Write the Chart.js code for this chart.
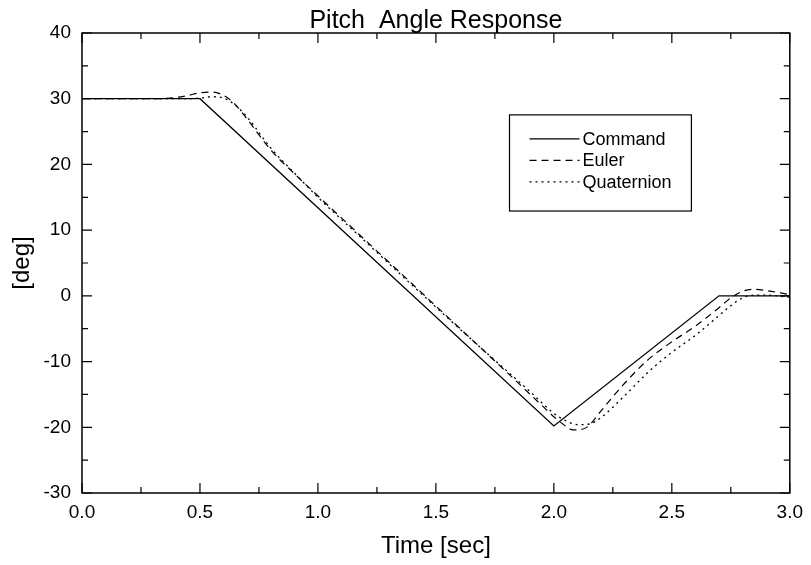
<!DOCTYPE html>
<html lang="en">
<head>
<meta charset="UTF-8">
<title>Pitch Angle Response</title>
<script src="https://cdn.jsdelivr.net/npm/chart.js"></script>
<style>
  html, body { margin: 0; padding: 0; background: #fff; }
  #wrap { width: 811px; height: 565px; }
</style>
</head>
<body>
<div id="wrap"><canvas id="chart"></canvas></div>
<script>
  // values
  const commandTime = [0, 0.5, 2.0, 2.7, 3.0];
  const commandDeg  = [30, 30, -19.8, 0, 0];

  const eulerTime = [0, 0.3, 0.4, 0.45, 0.5, 0.55, 0.6, 0.65, 0.7, 0.8, 0.9, 1.0, 1.2, 1.4, 1.6, 1.8, 1.9, 1.95,
                     2.0, 2.05, 2.08, 2.12, 2.15, 2.2, 2.3, 2.4, 2.5, 2.6, 2.7, 2.75, 2.8, 2.85, 2.9, 3.0];
  const eulerDeg  = [30, 30, 30.2, 30.5, 30.9, 31.0, 30.5, 29.1, 26.9, 22.2, 18.6, 15.2, 8.5, 1.8, -4.9, -11.6, -15.0, -16.7,
                     -18.4, -19.8, -20.4, -20.3, -19.7, -17.5, -13.3, -9.7, -7.0, -4.6, -1.8, -0.3, 0.7, 1.0, 0.8, 0.2];

  const quatTime = [0, 0.45, 0.5, 0.55, 0.6, 0.65, 0.7, 0.8, 0.9, 1.0, 1.2, 1.4, 1.6, 1.8, 1.9, 1.95,
                    2.0, 2.05, 2.1, 2.15, 2.2, 2.3, 2.4, 2.5, 2.6, 2.7, 2.75, 2.8, 2.85, 2.9, 3.0];
  const quatDeg  = [30, 30, 30.1, 30.3, 30.1, 29.0, 27.2, 22.5, 18.7, 15.0, 8.3, 1.6, -5.0, -11.4, -14.6, -16.3,
                    -17.9, -19.0, -19.6, -19.5, -18.5, -15.2, -11.6, -8.6, -6.0, -3.0, -1.5, -0.3, 0.1, 0.1, -0.2];

  const xMajor = 0.5, xMinor = 0.25;
  const yMajor = 10, yMinor = 5;
  const chartTitle = 'Pitch  Angle Response';

  const toPoints = (xs, ys) => xs.map((x, i) => ({ x: x, y: ys[i] }));
  const FONT = '"Liberation Sans", Arial, Helvetica, sans-serif';

  // title centred over the plot area, not the whole canvas
  const plotTitle = {
    id: 'plotTitle',
    afterDraw(chart) {
      const { ctx, chartArea: a } = chart;
      ctx.save();
      ctx.font = '25px ' + FONT;
      ctx.fillStyle = '#000';
      ctx.textAlign = 'center';
      ctx.textBaseline = 'alphabetic';
      ctx.fillText(chartTitle, (a.left + a.right) / 2, a.top - 5);
      ctx.restore();
    }
  };

  // box round the plot with inward ticks on all four sides
  const frameTicks = {
    id: 'frameTicks',
    afterDraw(chart) {
      const { ctx, chartArea: a, scales } = chart;
      ctx.save();
      ctx.strokeStyle = '#000';
      ctx.lineWidth = 1.5;
      ctx.strokeRect(a.left, a.top, a.right - a.left, a.bottom - a.top);
      ctx.lineWidth = 1.2;
      ctx.beginPath();
      scales.x.ticks.forEach(t => {
        const px = scales.x.getPixelForValue(t.value);
        const len = Math.abs(t.value / xMajor - Math.round(t.value / xMajor)) < 1e-6 ? 10 : 6;
        ctx.moveTo(px, a.bottom); ctx.lineTo(px, a.bottom - len);
        ctx.moveTo(px, a.top); ctx.lineTo(px, a.top + len);
      });
      scales.y.ticks.forEach(t => {
        const py = scales.y.getPixelForValue(t.value);
        const len = t.value % yMajor === 0 ? 10 : 6;
        ctx.moveTo(a.left, py); ctx.lineTo(a.left + len, py);
        ctx.moveTo(a.right, py); ctx.lineTo(a.right - len, py);
      });
      ctx.stroke();
      ctx.restore();
    }
  };

  // legend inside the plot, as a framed box
  const legendBox = {
    id: 'legendBox',
    afterDraw(chart) {
      const { ctx, chartArea: a } = chart;
      const w = a.right - a.left, h = a.bottom - a.top;
      const x0 = a.left + w * 0.604, x1 = a.left + w * 0.861;
      const y0 = a.top + h * 0.178, y1 = a.top + h * 0.387;
      ctx.save();
      ctx.strokeStyle = '#000';
      ctx.lineWidth = 1.2;
      ctx.strokeRect(x0, y0, x1 - x0, y1 - y0);
      ctx.font = '18px ' + FONT;
      ctx.fillStyle = '#000';
      ctx.textBaseline = 'middle';
      chart.data.datasets.forEach((ds, i) => {
        const y = y0 + 24 + i * 21.5;
        ctx.lineWidth = ds.borderWidth;
        ctx.setLineDash(ds.borderDash || []);
        ctx.beginPath();
        ctx.moveTo(x0 + 20, y); ctx.lineTo(x0 + 70, y);
        ctx.stroke();
        ctx.setLineDash([]);
        ctx.fillText(ds.label, x0 + 73, y + 1);
      });
      ctx.restore();
    }
  };

  new Chart(document.getElementById('chart').getContext('2d'), {
    type: 'line',
    data: {
      datasets: [
        { label: 'Command', data: toPoints(commandTime, commandDeg),
          borderColor: '#000', borderWidth: 1.3, pointRadius: 0, tension: 0 },
        { label: 'Euler', data: toPoints(eulerTime, eulerDeg),
          borderColor: '#000', borderWidth: 1.2, borderDash: [7, 5], pointRadius: 0, cubicInterpolationMode: 'monotone' },
        { label: 'Quaternion', data: toPoints(quatTime, quatDeg),
          borderColor: '#000', borderWidth: 1.3, borderDash: [2, 4], pointRadius: 0, cubicInterpolationMode: 'monotone' }
      ]
    },
    options: {
      responsive: true,
      maintainAspectRatio: false,
      animation: false,
      devicePixelRatio: 1,
      layout: { padding: { left: 0, right: 15, top: 33, bottom: 0 } },
      plugins: {
        legend: { display: false },
        tooltip: { enabled: false },
        title: { display: false }
      },
      scales: {
        x: {
          type: 'linear',
          min: 0, max: 3,
          grid: { display: false, drawTicks: false },
          border: { display: false },
          ticks: {
            stepSize: xMinor,
            autoSkip: false,
            maxRotation: 0,
            padding: 8,
            color: '#000',
            font: { family: FONT, size: 19 },
            callback: v => Math.abs(v / xMajor - Math.round(v / xMajor)) < 1e-6 ? v.toFixed(1) : ''
          },
          title: {
            display: true, text: 'Time [sec]', color: '#000',
            font: { family: FONT, size: 24 },
            padding: { top: 4, bottom: 4 }
          },
          afterFit: s => { s.height = 72; }
        },
        y: {
          min: -30, max: 40,
          grid: { display: false, drawTicks: false },
          border: { display: false },
          ticks: {
            stepSize: yMinor,
            autoSkip: false,
            padding: 11,
            color: '#000',
            font: { family: FONT, size: 19 },
            callback: v => v % yMajor === 0 ? String(v) : ''
          },
          title: {
            display: true, text: '[deg]', color: '#000',
            font: { family: FONT, size: 24 },
            padding: { top: 8, bottom: 0 }
          },
          afterFit: s => { s.width = 82; }
        }
      }
    },
    plugins: [plotTitle, frameTicks, legendBox]
  });
</script>
</body>
</html>
